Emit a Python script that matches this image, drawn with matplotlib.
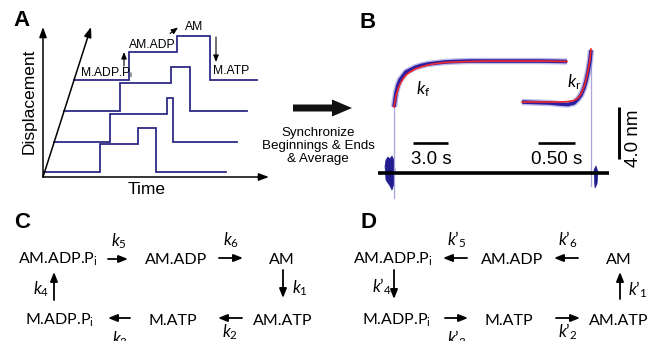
import matplotlib
matplotlib.use('Agg')
import matplotlib.pyplot as plt
from matplotlib.patches import FancyArrow, Polygon

plt.rcParams['mathtext.fontset'] = 'custom'
plt.rcParams['mathtext.rm'] = 'Lato'
plt.rcParams['mathtext.it'] = 'Lato:italic'
plt.rcParams['mathtext.bf'] = 'Lato:bold'

HEL = 'Liberation Sans'
MYR = 'Lato'
NAVY = '#2e2b86'
BLUE = '#2417a0'
RED = '#ee2a2a'
LAV = '#aaa6df'

# ---------------- Panel A data (schematic step traces) ----------------
a_start = [44, 54, 64, 74]        # trace start (on the diagonal)
a_base = [172, 142, 111, 80]      # baseline of each trace
a_pi = [100, 110, 120, 129]       # first step (Pi release)
a_adp = [138, 167, 171, 177]      # second step (ADP release)
a_atp = [156, 173, 190, 210]      # detachment (ATP binding)
a_end = [226, 237, 247, 257]      # trace end
a_step1 = 28
a_step2 = 16.5

# ---------------- Panel B data (averaged trace + fits) ----------------
fwd_x = [394, 396, 398, 400, 403, 406, 410, 415, 421, 428, 436, 445, 455, 470, 490, 515, 540, 567]
fwd_fit = [107, 96, 89, 84, 79, 75, 72, 69, 67, 65, 63.5, 62.5, 62, 61.5, 61, 61, 61, 61.5]
fwd_dat = [107, 93, 85, 80, 76, 72, 70, 67.5, 65.5, 64, 63, 62, 61.5, 61, 61, 61, 61, 61.5]
rev_x = [522, 535, 550, 560, 568, 574, 578, 581, 584, 586, 588, 590, 591]
rev_fit = [102, 102, 102, 102, 101.5, 100.5, 98, 94, 87, 80, 71, 59, 49]
rev_dat = [102, 102.5, 103, 104, 104.5, 103, 99, 95, 88, 81, 72, 60, 50]
blob_l_x = [385, 386, 388, 390, 392, 394, 395, 394, 392, 390, 388, 386]
blob_l_y = [166, 160, 157, 159, 156, 160, 170, 184, 190, 186, 183, 180]
blob_r_x = [594, 596, 598, 597, 595]
blob_r_y = [170, 166, 172, 184, 188]

fig = plt.figure(figsize=(6.57, 3.41), dpi=100)
ax = fig.add_axes([0, 0, 1, 1])
ax.set_xlim(0, 657)
ax.set_ylim(341, 0)
ax.axis('off')

# panel letters
for lab, x, y in [('A', 22, 21), ('B', 368, 22), ('C', 22, 222), ('D', 368, 223)]:
    ax.text(x, y, lab, family=HEL, weight='bold', fontsize=16, ha='center', va='center')

# ---------------- Panel A ----------------
ox, oy = 43, 177
ap = dict(arrowstyle='-|>,head_length=0.6,head_width=0.22', lw=1.1, color='black',
          mutation_scale=10, shrinkA=0, shrinkB=0)
ax.annotate('', xy=(43, 27), xytext=(ox, oy), arrowprops=ap)
ax.annotate('', xy=(269, 177), xytext=(ox, oy), arrowprops=ap)
ax.annotate('', xy=(91, 27), xytext=(ox, oy), arrowprops=ap)

for s, b, t1, t2, t3, e in zip(a_start, a_base, a_pi, a_adp, a_atp, a_end):
    xs = [s, t1, t1, t2, t2, t3, t3, e]
    ys = [b, b, b - a_step1, b - a_step1, b - a_step1 - a_step2, b - a_step1 - a_step2, b, b]
    ax.plot(xs, ys, color=NAVY, lw=1.3, solid_joinstyle='miter')

ax.text(29, 101, 'Displacement', family=HEL, fontsize=12.5, rotation=90, ha='center', va='center')
ax.text(147, 190, 'Time', family=HEL, fontsize=12.5, ha='center', va='center')

fs_a = 8.7
ax.text(80, 76, r'M.ADP.P$_\mathregular{i}$', family=HEL, fontsize=fs_a, ha='left', va='baseline')
ax.text(129, 48, 'AM.ADP', family=HEL, fontsize=fs_a, ha='left', va='baseline')
ax.text(185, 30, 'AM', family=HEL, fontsize=fs_a, ha='left', va='baseline')
ax.text(213, 74, 'M.ATP', family=HEL, fontsize=fs_a, ha='left', va='baseline')
sp = dict(arrowstyle='-|>,head_length=0.5,head_width=0.2', lw=0.8, color='black',
          mutation_scale=8, shrinkA=0, shrinkB=0)
ax.annotate('', xy=(124, 52), xytext=(124, 66), arrowprops=sp)
ax.annotate('', xy=(178, 27.5), xytext=(170, 33.5), arrowprops=sp)
ax.annotate('', xy=(216, 62), xytext=(216, 37), arrowprops=sp)

# big arrow + text
ax.add_patch(FancyArrow(293, 108, 39, 0, width=7, head_width=17, head_length=20,
                        length_includes_head=False, color='#111111', lw=0))
ax.text(318, 146, 'Synchronize\nBeginnings & Ends\n& Average', family=HEL, fontsize=9.6,
        ha='center', va='center', linespacing=1.15)

# ---------------- Panel B ----------------
ax.plot([394, 394], [107, 198], color=LAV, lw=0.9)
ax.plot([591, 591], [50, 186], color=LAV, lw=0.9)
ax.add_patch(Polygon(list(zip(blob_l_x, blob_l_y)), closed=True, color='#231c8f', lw=0.5))
ax.add_patch(Polygon(list(zip(blob_r_x, blob_r_y)), closed=True, color='#231c8f', lw=0.5))
ax.plot([378, 609], [173, 173], color='black', lw=2.6, solid_capstyle='butt')

for xs, ys in [(fwd_x, fwd_dat), (rev_x, rev_dat)]:
    ax.plot(xs, ys, color='#6f66c8', lw=4.6, alpha=0.45, solid_capstyle='butt')
    ax.plot(xs, ys, color=BLUE, lw=2.6, alpha=0.95, solid_capstyle='butt')
ax.plot(fwd_x, fwd_fit, color=RED, lw=1.2)
ax.plot(rev_x, rev_fit, color=RED, lw=1.2)

ax.text(423, 89, r'$k_\mathrm{f}$', fontsize=12.5, ha='center', va='center')
ax.text(574, 82, r'$k_\mathrm{r}$', fontsize=12.5, ha='center', va='center')

ax.plot([413, 448], [143, 143], color='black', lw=1.9, solid_capstyle='butt')
ax.plot([538, 575], [143, 143], color='black', lw=1.9, solid_capstyle='butt')
ax.plot([619, 619], [107, 159], color='black', lw=2.1, solid_capstyle='butt')
ax.text(431, 159, '3.0 s', family=HEL, fontsize=13.5, ha='center', va='center')
ax.text(557, 159, '0.50 s', family=HEL, fontsize=13.5, ha='center', va='center')
ax.text(633, 138, '4.0 nm', family=HEL, fontsize=13.5, rotation=90, ha='center', va='center')

# ---------------- Panels C and D ----------------
fs_s = 11.5
fs_k = 12
rp = dict(arrowstyle='-|>,head_length=0.55,head_width=0.22', lw=1.3, color='black',
          mutation_scale=10, shrinkA=0, shrinkB=0)
top, bot = 263.5, 325

def state(x, y, s, ha):
    ax.text(x, y, s, family=MYR, fontsize=fs_s, ha=ha, va='baseline')

def arr(x0, y0, x1, y1):
    ax.annotate('', xy=(x1, y1), xytext=(x0, y0), arrowprops=rp)

def klab(x, y, s, ha='center'):
    ax.text(x, y, s, family=MYR, fontsize=fs_k, ha=ha, va='center')

# C
state(18, top, r'AM.ADP.P$_\mathregular{i}$', 'left')
state(207, top, 'AM.ADP', 'right')
state(282, top, 'AM', 'center')
state(25, bot, r'M.ADP.P$_\mathregular{i}$', 'left')
state(197, bot, 'M.ATP', 'right')
state(253, bot, 'AM.ATP', 'left')
arr(108, 259, 128, 259); klab(119, 241, r'$k_5$')
arr(219, 258, 243, 258); klab(231, 240, r'$k_6$')
arr(283, 270, 283, 298); klab(292, 288, r'$k_1$', 'left')
arr(54, 300, 54, 272); klab(41, 289, r'$k_4$')
arr(130, 318, 108, 318); klab(120, 339, r'$k_3$')
arr(242, 318, 218, 318); klab(230, 332, r'$k_2$')

# D
state(353, top, r'AM.ADP.P$_\mathregular{i}$', 'left')
state(543, top, 'AM.ADP', 'right')
state(619, top, 'AM', 'center')
state(362, bot, r'M.ADP.P$_\mathregular{i}$', 'left')
state(533, bot, 'M.ATP', 'right')
state(589, bot, 'AM.ATP', 'left')
arr(467, 258, 443, 258); klab(457, 240, r'$k$’$_5$')
arr(578, 258, 554, 258); klab(568, 240, r'$k$’$_6$')
arr(620, 299, 620, 272); klab(628, 290, r'$k$’$_1$', 'left')
arr(394, 270, 394, 299); klab(392, 287, r'$k$’$_4$', 'right')
arr(445, 318, 468, 318); klab(457, 339, r'$k$’$_3$')
arr(556, 318, 580, 318); klab(568, 332, r'$k$’$_2$')

fig.savefig('out.png', dpi=100)
